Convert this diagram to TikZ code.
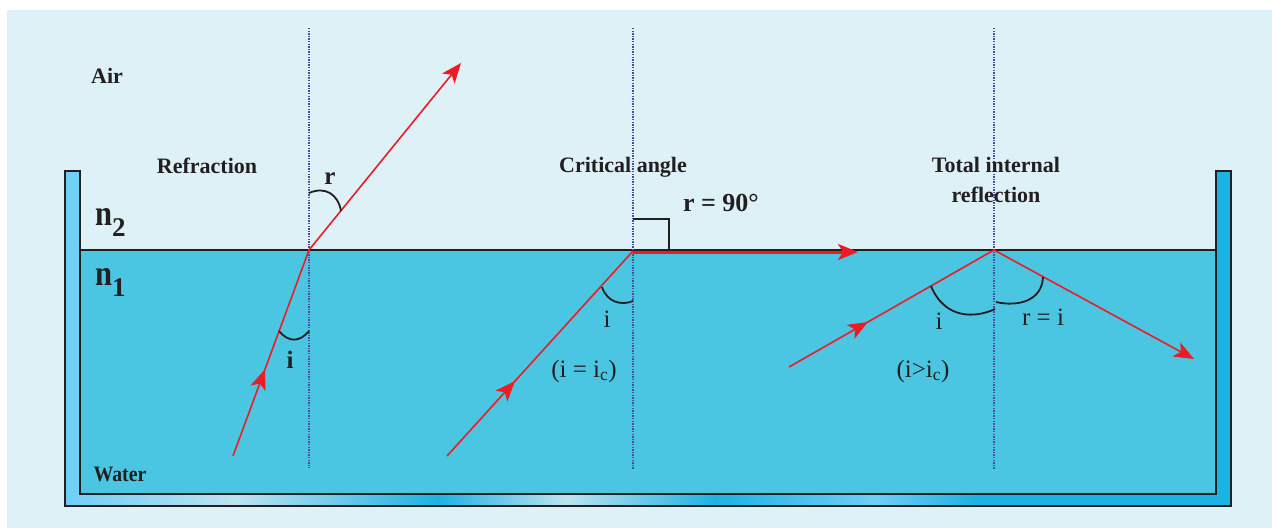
\documentclass[tikz,border=0pt]{standalone}
\usepackage{graphicx}
\usepackage{fontspec}
\setmainfont{Liberation Serif}
\usetikzlibrary{arrows.meta,decorations.markings}
\definecolor{bgc}{HTML}{DDF1F6}
\definecolor{water}{HTML}{4AC6E2}
\definecolor{edge}{HTML}{231F20}
\definecolor{ray}{HTML}{ED1C24}
\definecolor{normalc}{HTML}{4A4DA6}
\definecolor{wl}{HTML}{6DCFF6}
\definecolor{wp}{HTML}{BDE3F0}
\definecolor{wd}{HTML}{1BB3E3}
\pgfdeclarehorizontalshading{wallshade}{100bp}{color(0bp)=(wl); color(25bp)=(wl); color(32.3bp)=(wp); color(41bp)=(wd); color(46.5bp)=(wp); color(52.85bp)=(wd); color(59.75bp)=(wl); color(63.95bp)=(wd); color(75bp)=(wd); color(100bp)=(wd)}
\tikzset{
  lab/.style={font=\fontsize{22}{26}\selectfont\bfseries, text=edge, inner sep=0pt, anchor=base},
  sym/.style={font=\fontsize{25}{28}\selectfont, text=edge, inner sep=0pt, anchor=base},
  bsym/.style={font=\fontsize{25}{28}\selectfont\bfseries, text=edge, inner sep=0pt, anchor=base},
  normalline/.style={normalc, line width=1.4pt, dash pattern=on 1.4pt off 1.2pt},
  rayline/.style={ray, line width=1.6pt},
  tipend/.style={-{Stealth[length=20pt,width=16pt,inset=5pt]}},
  midarrow/.style={decoration={markings, mark=at position #1 with {\arrow{Stealth[length=20pt,width=16pt,inset=5pt]}}}, postaction=decorate},
  anglemark/.style={edge, line width=1.8pt},
}
\begin{document}
\begin{tikzpicture}[x=1pt,y=-1pt]
\useasboundingbox (0,0) rectangle (1272,528);
\fill[white] (0,0) rectangle (1272,528);
\fill[bgc] (7,10) rectangle (1272,528);
% container
\shadedraw[shading=wallshade, draw=edge, line width=2pt] (65,171) -- (80,171) -- (80,494) -- (1216,494) -- (1216,171) -- (1231,171) -- (1231,506) -- (65,506) -- cycle;
\filldraw[fill=water, draw=edge, line width=1.8pt] (80,250) rectangle (1216,494);
% points
\coordinate (P1) at (309,250);
\coordinate (P2) at (633,251);
\coordinate (P3) at (994,250);
\coordinate (N1t) at (309,28); \coordinate (N1b) at (309,468);
\coordinate (N2t) at (633,28); \coordinate (N2b) at (633,469);
\coordinate (N3t) at (994,28); \coordinate (N3b) at (994,469);
\coordinate (S1) at (233,456);
\coordinate (E1) at (461,63);
\coordinate (S2) at (447,456);
\coordinate (E2) at (858,252);
\coordinate (S3) at (789,367);
\coordinate (E3) at (1194,359);
% normals
\draw[normalline] (N1t) -- (N1b);
\draw[normalline] (N2t) -- (N2b);
\draw[normalline] (N3t) -- (N3b);
% refraction
\draw[rayline, midarrow=0.42] (S1) -- (P1);
\draw[rayline, tipend] (P1) -- (E1);
\draw[anglemark] (279,331) .. controls (289,343) and (300,342) .. (309,331);
\draw[anglemark] (309,193) .. controls (325,186) and (338,194) .. (341,211);
% critical angle
\draw[rayline, midarrow=0.365] (S2) -- (P2);
\draw[ray, line width=3pt, tipend] (633,252) -- (E2);
\draw[anglemark] (602,287) .. controls (607,302) and (621,306) .. (633,301);
\draw[edge, line width=1.6pt] (633,219) -- (669,219) -- (669,250);
% total internal reflection
\draw[rayline, midarrow=0.385] (S3) -- (P3);
\draw[rayline, tipend] (P3) -- (E3);
\draw[anglemark] (931,286) .. controls (945,320) and (976,318) .. (995,309);
\draw[anglemark] (1043,277) .. controls (1042,301) and (1018,307) .. (996,302);
% labels
\node[lab] (air) at (107,83) {Air};
\node[lab] (water) at (120,481) {\scalebox{0.9}[1]{Water}};
\node[lab] (refr) at (207,173) {Refraction};
\node[lab] (crit) at (623,172) {Critical angle};
\node[lab] (tir1) at (996,172) {Total internal};
\node[lab] (tir2) at (996,202) {reflection};
\node[bsym, anchor=base west] (n2) at (95,225) {\fontsize{36}{40}\selectfont\bfseries\scalebox{0.85}[1]{n}\raisebox{-11pt}{\fontsize{27}{30}\selectfont\bfseries 2}};
\node[bsym, anchor=base west] (n1) at (95,285) {\fontsize{36}{40}\selectfont\bfseries\scalebox{0.85}[1]{n}\raisebox{-11pt}{\fontsize{27}{30}\selectfont\bfseries 1}};
\node[bsym] (rl) at (330,184) {r};
\node[bsym] (il) at (290,368) {i};
\node[lab, font=\fontsize{26}{30}\selectfont\bfseries] (r90) at (721,211) {r = 90°};
\node[sym] (i2) at (607,327) {i};
\node[sym] (ic2) at (584,377) {(i = i\textsubscript{c})};
\node[sym] (i3) at (939,329) {i};
\node[sym] (ri) at (1043,325) {r = i};
\node[sym] (ic3) at (923,377) {(i>i\textsubscript{c})};
\end{tikzpicture}
\end{document}
